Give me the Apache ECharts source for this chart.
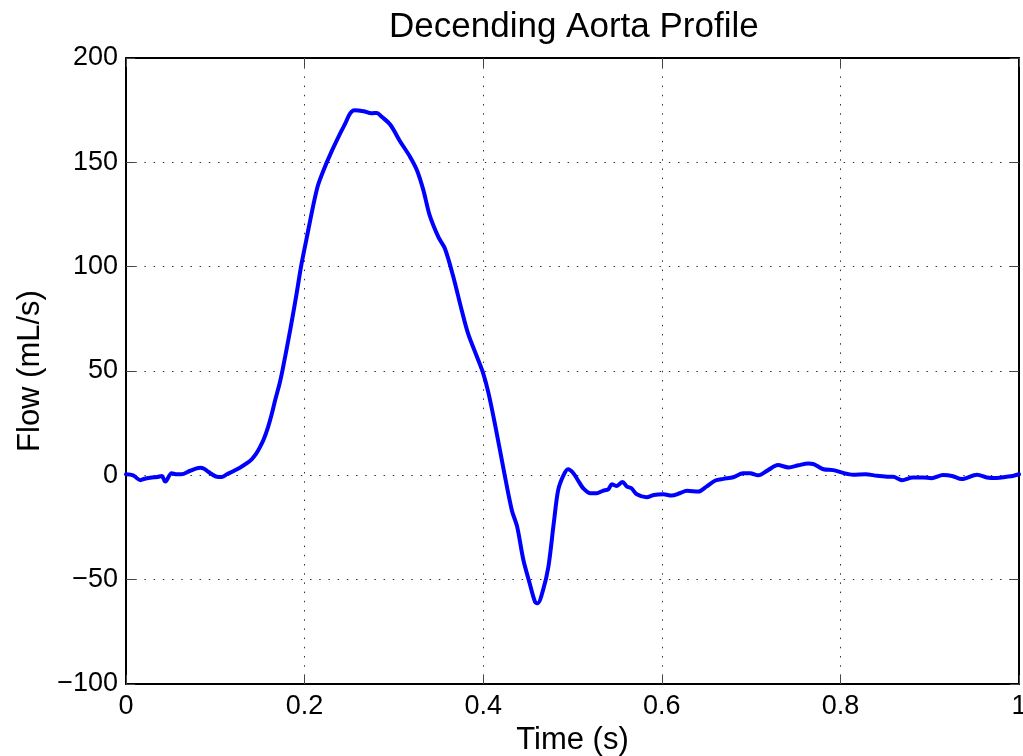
<!DOCTYPE html>
<html>
<head>
<meta charset="utf-8">
<title>Decending Aorta Profile</title>
<script src="https://cdn.jsdelivr.net/npm/echarts@6/dist/echarts.min.js"></script>
<style>
  html, body { margin: 0; padding: 0; background: #fff; overflow: hidden; }
  #chart { width: 1023px; height: 756px; }
</style>
</head>
<body>
<div id="chart"></div>
<script>
// Sample times (s) over one cardiac cycle
const times = [
  0, 0.008, 0.016, 0.022, 0.029, 0.035, 0.040, 0.044, 0.051, 0.057,
  0.062, 0.072, 0.083, 0.088, 0.092, 0.102, 0.107, 0.113, 0.120, 0.128,
  0.135, 0.141, 0.146, 0.150, 0.154, 0.159, 0.163, 0.167, 0.172, 0.176,
  0.184, 0.191, 0.196, 0.202, 0.210, 0.215, 0.221, 0.230, 0.240, 0.246,
  0.251, 0.256, 0.266, 0.275, 0.281, 0.286, 0.296, 0.307, 0.318, 0.326,
  0.333, 0.340, 0.350, 0.357, 0.366, 0.376, 0.383, 0.393, 0.400, 0.406,
  0.413, 0.423, 0.432, 0.438, 0.445, 0.452, 0.458, 0.461, 0.467, 0.473,
  0.479, 0.484, 0.490, 0.495, 0.501, 0.507, 0.512, 0.520, 0.527, 0.534,
  0.540, 0.544, 0.549, 0.556, 0.561, 0.566, 0.572, 0.583, 0.591, 0.602,
  0.611, 0.620, 0.628, 0.641, 0.650, 0.660, 0.669, 0.680, 0.691, 0.699,
  0.708, 0.719, 0.730, 0.742, 0.753, 0.764, 0.770, 0.781, 0.792, 0.803,
  0.814, 0.828, 0.841, 0.854, 0.859, 0.869, 0.881, 0.893, 0.902, 0.915,
  0.925, 0.936, 0.953, 0.964, 0.975, 0.986, 0.993, 1.000
];

// Descending aorta flow (mL/s) at each sample time
const flows = [
  0.5, 0, -2.3, -1.5, -1, -0.8, -0.3, -3, 1, 0.5,
  0.5, 2.2, 3.6, 3, 1.7, -0.7, -0.8, 0.5, 2, 3.8,
  5.7, 7.8, 10.5, 13.5, 17, 23, 29, 36, 44, 52,
  70, 87, 100, 113, 130, 139, 146, 155, 164, 169,
  173.5, 175, 174.5, 173.5, 173.7, 172, 168, 160, 152.7, 146,
  136.7, 124.7, 114, 108.8, 96, 79, 68, 56.8, 48.9, 39.3,
  24.9, 2.5, -16.6, -24.6, -40.6, -51.7, -60.6, -61.3, -55, -43.8,
  -23, -7, 0.1, 2.9, 1, -3, -6.2, -8.6, -8.6, -7.4,
  -6.7, -4.3, -5.1, -3.2, -5.4, -6.2, -9.1, -10.5, -9.4, -9.1,
  -9.7, -8.6, -7.4, -7.8, -5.4, -2.5, -1.7, -0.9, 1, 1,
  0, 2.5, 4.9, 3.8, 4.8, 5.7, 5.4, 2.9, 2.5, 1.2,
  0.3, 0.5, -0.2, -0.7, -0.7, -2.3, -1, -1, -1.4, 0.1,
  -0.3, -1.8, 0.3, -1, -1.3, -0.7, -0.3, 0.5
];

// Axis tick values
const xTicks = [0, 0.2, 0.4, 0.6, 0.8, 1];
const yTicks = [-100, -50, 0, 50, 100, 150, 200];

const FONT = '"Liberation Sans", Arial, Helvetica, sans-serif';

const points = times.map((t, i) => [t, flows[i]]);

const frameLine = { show: true, onZero: false, lineStyle: { color: '#000', width: 2 } };
const innerTick = { show: true, inside: true, length: 9, lineStyle: { color: '#444', width: 1 } };
const dotted = { show: true, lineStyle: { color: '#333', width: 1, type: [1.5, 7.7] } };
const minusSign = v => String(v).replace('-', '\u2212');

const chart = echarts.init(document.getElementById('chart'), null, { renderer: 'canvas' });

chart.setOption({
  animation: false,
  backgroundColor: '#fff',
  title: {
    text: 'Decending Aorta Profile',
    left: 389,
    top: 10,
    padding: 0,
    textStyle: { fontFamily: FONT, fontSize: 35, fontWeight: 'normal', color: '#000' }
  },
  // fixed plot box; labels may run to the canvas edge
  grid: { left: 126, right: 4, top: 58, bottom: 72, containLabel: false, outerBoundsMode: 'none' },
  xAxis: [
    {
      type: 'value',
      position: 'bottom',
      min: xTicks[0],
      max: xTicks[xTicks.length - 1],
      interval: 0.2,
      axisLine: frameLine,
      axisTick: innerTick,
      axisLabel: {
        margin: 9,
        fontFamily: FONT, fontSize: 27, color: '#000',
        formatter: v => String(+v.toFixed(1))
      },
      splitLine: dotted,
      name: 'Time (s)',
      nameLocation: 'middle',
      nameGap: 40,
      nameTextStyle: { fontFamily: FONT, fontSize: 31, color: '#000' }
    },
    {
      type: 'value',
      position: 'top',
      min: xTicks[0],
      max: xTicks[xTicks.length - 1],
      interval: 0.2,
      axisLine: frameLine,
      axisTick: innerTick,
      axisLabel: { show: false },
      splitLine: { show: false }
    }
  ],
  yAxis: [
    {
      type: 'value',
      position: 'left',
      min: yTicks[0],
      max: yTicks[yTicks.length - 1],
      interval: 50,
      axisLine: frameLine,
      axisTick: innerTick,
      axisLabel: {
        margin: 8,
        fontFamily: FONT, fontSize: 27, color: '#000',
        formatter: minusSign
      },
      splitLine: dotted,
      name: 'Flow (mL/s)',
      nameLocation: 'middle',
      nameGap: 80,
      nameTextStyle: { fontFamily: FONT, fontSize: 31, color: '#000' }
    },
    {
      type: 'value',
      position: 'right',
      min: yTicks[0],
      max: yTicks[yTicks.length - 1],
      interval: 50,
      axisLine: frameLine,
      axisTick: innerTick,
      axisLabel: { show: false },
      splitLine: { show: false }
    }
  ],
  series: [
    {
      type: 'line',
      xAxisIndex: 0,
      yAxisIndex: 0,
      data: points,
      showSymbol: false,
      smooth: 0.3,
      lineStyle: { color: '#0000ff', width: 4, join: 'round', cap: 'round' },
      z: 5
    }
  ]
});
</script>
</body>
</html>
